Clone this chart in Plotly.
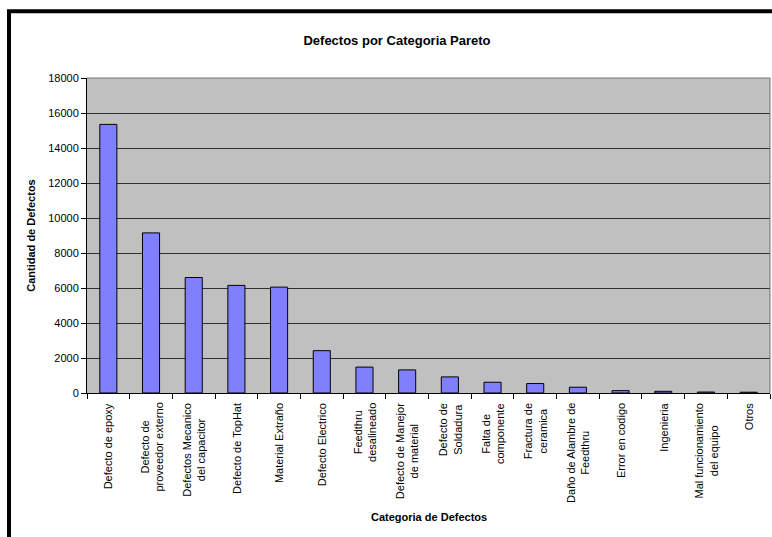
import plotly.graph_objects as go

categories = [
    "Defecto de epoxy",
    "Defecto de<br>proveedor externo",
    "Defectos Mecanico<br>del capacitor",
    "Defecto de TopHat",
    "Material Extraño",
    "Defecto Electrico",
    "Feedthru<br>desalineado",
    "Defecto de Manejor<br>de material",
    "Defecto de<br>Soldadura",
    "Falta de<br>componente",
    "Fractura de<br>ceramica",
    "Daño de Alambre de<br>Feedthru",
    "Error en codigo",
    "Ingenieria",
    "Mal funcionamiento<br>del equipo",
    "Otros",
]
values = [15350, 9150, 6600, 6150, 6050, 2420, 1480, 1320, 920, 615, 540, 330, 135, 95, 55, 45]
y_ticks = [0, 2000, 4000, 6000, 8000, 10000, 12000, 14000, 16000, 18000]

FONT = "Liberation Sans, Arial, sans-serif"

fig = go.Figure()
fig.add_trace(go.Bar(
    x=categories,
    y=values,
    marker=dict(color="#8080FF", line=dict(color="#000000", width=1)),
    hoverinfo="x+y",
))

fig.update_layout(
    width=772,
    height=537,
    margin=dict(l=87, r=2, t=78, b=144),
    paper_bgcolor="#FFFFFF",
    plot_bgcolor="#C0C0C0",
    bargap=0.6,
    showlegend=False,
    font=dict(family=FONT, size=11, color="#000000"),
    title=dict(
        text="<b>Defectos por Categoria Pareto</b>",
        x=397 / 772, xref="container", xanchor="center",
        y=1 - 40 / 537, yref="container", yanchor="middle",
        font=dict(family=FONT, size=13, color="#000000"),
    ),
    xaxis=dict(
        type="category",
        tickson="boundaries",
        ticks="outside",
        ticklen=5,
        tickcolor="#000000",
        showticklabels=False,
        showline=True,
        linecolor="#000000",
        linewidth=1,
        showgrid=False,
    ),
    yaxis=dict(
        range=[0, 18000],
        tickvals=y_ticks,
        ticktext=[str(v) for v in y_ticks],
        ticks="outside",
        ticklen=5,
        tickcolor="#000000",
        showline=True,
        linecolor="#000000",
        linewidth=1,
        showgrid=True,
        gridcolor="#303030",
        gridwidth=1,
        zeroline=False,
        tickfont=dict(family=FONT, size=11, color="#000000"),
        title=dict(text="<b>Cantidad de Defectos</b>", standoff=10,
                   font=dict(family=FONT, size=11, color="#000000")),
    ),
)

# category labels: rotated, lines centred, block hanging from the axis
for cat in categories:
    fig.add_annotation(
        x=cat, xref="x", y=0, yref="paper",
        text=cat, textangle=-90, showarrow=False,
        xanchor="center", yanchor="top", align="center",
        yshift=-8,
        font=dict(family=FONT, size=11, color="#000000"),
    )

# x-axis title
fig.add_annotation(
    x=0.5, xref="paper", y=0, yref="paper",
    text="<b>Categoria de Defectos</b>", showarrow=False,
    xanchor="center", yanchor="middle", yshift=-124,
    font=dict(family=FONT, size=11, color="#000000"),
)

# plot-area border on top and right (grey)
fig.add_shape(type="line", xref="paper", yref="paper", x0=0, x1=1, y0=1, y1=1,
              line=dict(color="#707070", width=1))
fig.add_shape(type="line", xref="paper", yref="paper", x0=1, x1=1, y0=0, y1=1,
              line=dict(color="#707070", width=1))

# chart outer frame (right and bottom edges fall outside the view)
fig.add_shape(type="rect", xref="paper", yref="paper",
              x0=(9 - 87) / 683, x1=1.2, y0=-0.8, y1=(393 - 11) / 315.3,
              line=dict(color="#000000", width=4), fillcolor="rgba(0,0,0,0)",
              layer="above")

fig.write_html("out.html")
